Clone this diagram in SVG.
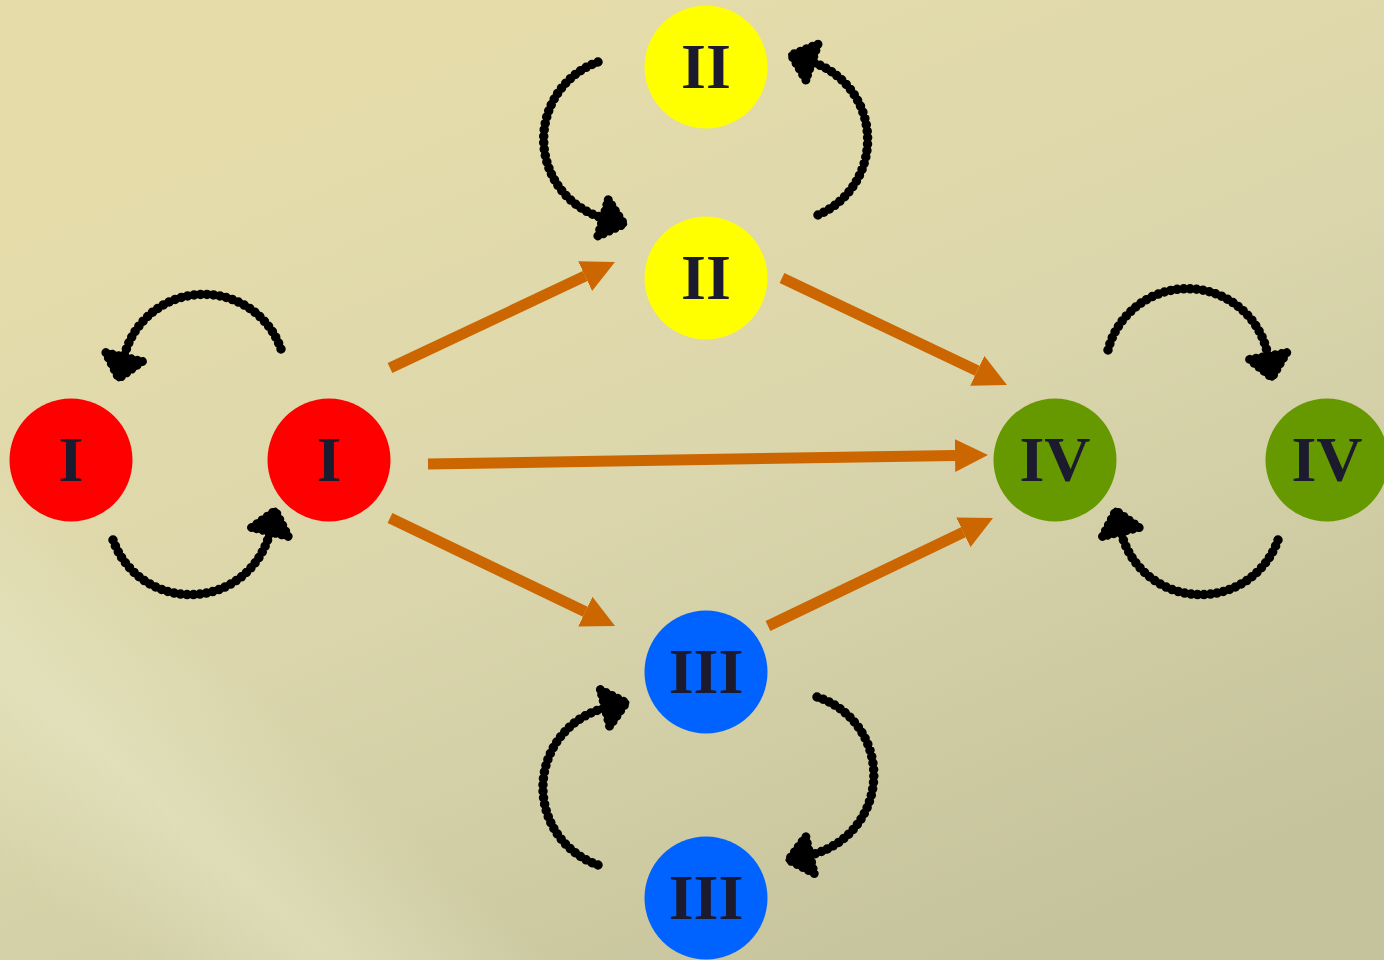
<svg xmlns="http://www.w3.org/2000/svg" width="1384" height="960" viewBox="0 0 1384 960">
<defs>
<linearGradient id="bg" x1="600" y1="0" x2="1000" y2="960" gradientUnits="userSpaceOnUse">
<stop offset="0" stop-color="#e5dcaa"/>
<stop offset="0.45" stop-color="#dbd6ac"/>
<stop offset="1" stop-color="#c5c39c"/>
</linearGradient>
<linearGradient id="band" x1="-20" y1="840" x2="180" y2="620" gradientUnits="userSpaceOnUse">
<stop offset="0" stop-color="#e8eac8" stop-opacity="0"/>
<stop offset="0.5" stop-color="#e8eac8" stop-opacity="0.5"/>
<stop offset="1" stop-color="#e8eac8" stop-opacity="0"/>
</linearGradient>
<marker id="oh" viewBox="0 0 10 10" refX="0" refY="5" markerWidth="3" markerHeight="3" orient="auto" markerUnits="strokeWidth">
<path d="M0,0 L10,5 L0,10 z" fill="#cc6600"/>
</marker>
<marker id="bh" viewBox="-6 -28 36 56" refX="0" refY="0" markerWidth="36" markerHeight="56" orient="auto" markerUnits="userSpaceOnUse">
<path d="M0,-19 L22,0 L0,19 z" fill="#000" stroke="#000" stroke-width="6" stroke-linejoin="round"/>
<path d="M0,-19 L22,0 L0,19 z" fill="none" stroke="#000" stroke-width="9" stroke-linecap="round" stroke-dasharray="0 6.5"/>
</marker>
<style>
.node text{font-family:"Liberation Serif","Times New Roman",serif;font-weight:bold;font-size:64px;fill:#1c1a2e;text-anchor:middle}
.flow{fill:none;stroke:#cc6600;stroke-width:11;marker-end:url(#oh)}
.core{fill:none;stroke:#000;stroke-width:6}
.bead{fill:none;stroke:#000;stroke-width:9.5;stroke-linecap:round;stroke-dasharray:0 6.5}
.red{fill:#ff0000}.yel{fill:#ffff00}.blu{fill:#0062ff}.grn{fill:#669900}
</style>
</defs>
<rect width="1384" height="960" fill="url(#bg)"/>
<rect width="1384" height="960" fill="url(#band)"/>

<g id="connectors">
<path class="flow" d="M390,368 L585.1,276.1"/>
<path class="flow" d="M428,464 L955,455.5"/>
<path class="flow" d="M390,518 L585.3,611.7"/>
<path class="flow" d="M782,278 L977.2,370.8"/>
<path class="flow" d="M768,626 L963.3,532.3"/>

<g id="loops">
<path class="core" d="M281,349 A82,82 0 0 0 124,357" marker-end="url(#bh)"/>
<path class="bead" d="M281,349 A82,82 0 0 0 124,357"/>
<path class="core" d="M113,540 A82,82 0 0 0 270,532" marker-end="url(#bh)"/>
<path class="bead" d="M113,540 A82,82 0 0 0 270,532"/>
<path class="core" d="M598,62 A82,82 0 0 0 603,218" marker-end="url(#bh)"/>
<path class="bead" d="M598,62 A82,82 0 0 0 603,218"/>
<path class="core" d="M818,215 A82,82 0 0 0 812,62" marker-end="url(#bh)"/>
<path class="bead" d="M818,215 A82,82 0 0 0 812,62"/>
<path class="core" d="M1108,350 A82,82 0 0 1 1268,356" marker-end="url(#bh)"/>
<path class="bead" d="M1108,350 A82,82 0 0 1 1268,356"/>
<path class="core" d="M1278,540 A82,82 0 0 1 1121,532" marker-end="url(#bh)"/>
<path class="bead" d="M1278,540 A82,82 0 0 1 1121,532"/>
<path class="core" d="M598,865 A82,82 0 0 1 605,708" marker-end="url(#bh)"/>
<path class="bead" d="M598,865 A82,82 0 0 1 605,708"/>
<path class="core" d="M817,697 A82,82 0 0 1 810,855" marker-end="url(#bh)"/>
<path class="bead" d="M817,697 A82,82 0 0 1 810,855"/>
</g>
</g>

<g id="node-I-a" class="node"><circle class="red" cx="71" cy="460" r="61.5"/><text x="71" y="481">I</text></g>
<g id="node-I-b" class="node"><circle class="red" cx="329" cy="460" r="61.5"/><text x="329" y="481">I</text></g>
<g id="node-II-a" class="node"><circle class="yel" cx="706" cy="67" r="61.5"/><text x="706" y="88">II</text></g>
<g id="node-II-b" class="node"><circle class="yel" cx="706" cy="278" r="61.5"/><text x="706" y="299">II</text></g>
<g id="node-III-a" class="node"><circle class="blu" cx="706" cy="672" r="61.5"/><text x="706" y="693">III</text></g>
<g id="node-III-b" class="node"><circle class="blu" cx="706" cy="898" r="61.5"/><text x="706" y="919">III</text></g>
<g id="node-IV-a" class="node"><circle class="grn" cx="1055" cy="460" r="61.5"/><text x="1055" y="481">IV</text></g>
<g id="node-IV-b" class="node"><circle class="grn" cx="1327" cy="460" r="61.5"/><text x="1327" y="481">IV</text></g>
</svg>
